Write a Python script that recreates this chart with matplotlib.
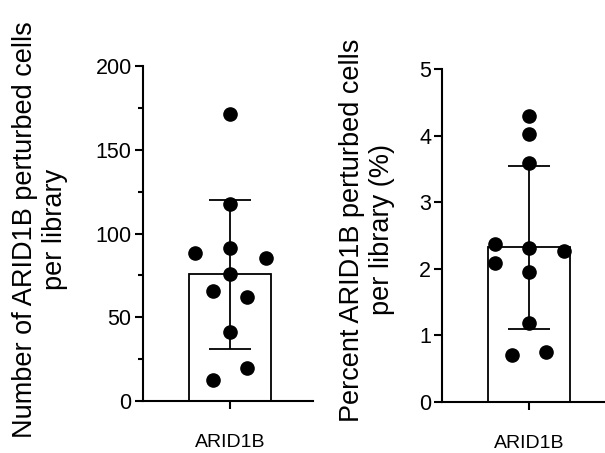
import matplotlib
matplotlib.use('Agg')
import matplotlib.pyplot as plt
from matplotlib.ticker import MultipleLocator
import numpy as np

plt.rcParams['font.family'] = ['Liberation Sans', 'DejaVu Sans']

category = 'ARID1B'

# cells per library (count)
counts = [171.3, 117.4, 91.2, 88.5, 85.6, 75.6, 65.9, 61.9, 41.4, 19.5, 12.5]
counts_jitter = [0.0, 0.0, 0.0, -0.40, 0.41, 0.0, -0.20, 0.20, 0.0, 0.20, -0.20]

# cells per library (percent)
percents = [4.30, 4.02, 3.59, 2.37, 2.09, 2.31, 2.27, 1.95, 1.18, 0.71, 0.75]
percents_jitter = [0.0, 0.0, 0.0, -0.39, -0.39, 0.0, 0.40, 0.0, 0.0, -0.20, 0.19]


def draw_panel(ax, values, jitter, ylabel, ymax, major, minor=None):
    values = np.array(values)
    mean = values.mean()
    sd = values.std(ddof=1)
    ax.bar([0], [mean], width=0.94, color='white', edgecolor='black', linewidth=1.3, zorder=1)
    ax.errorbar([0], [mean], yerr=[sd], color='black', elinewidth=1.3, capsize=15,
                capthick=1.3, zorder=2)
    ax.plot(np.array(jitter), values, 'o', color='black', markersize=9.5, zorder=3)

    ax.set_xlim(-1.0, 0.95)
    ax.set_ylim(0, ymax)
    ax.yaxis.set_major_locator(MultipleLocator(major))
    if minor:
        ax.yaxis.set_minor_locator(MultipleLocator(minor))
    ax.set_xticks([0])
    ax.set_xticklabels([category])
    ax.spines['top'].set_visible(False)
    ax.spines['right'].set_visible(False)
    for s in ['left', 'bottom']:
        ax.spines[s].set_linewidth(1.5)
    ax.tick_params(axis='both', which='major', width=1.5, length=6)
    ax.tick_params(axis='y', which='major', labelsize=15.5, pad=2)
    ax.tick_params(axis='y', which='minor', width=1.5, length=3.5)
    ax.tick_params(axis='x', labelsize=14, pad=18)
    ax.set_ylabel(ylabel, fontsize=19.5)


fig = plt.figure(figsize=(6.05, 4.53), dpi=100)
ax1 = fig.add_axes([0.236, 0.115, 0.281, 0.739])
ax2 = fig.add_axes([0.731, 0.113, 0.281, 0.734])

draw_panel(ax1, counts, counts_jitter, 'Number of ARID1B perturbed cells\nper library', 200, 50, 25)
draw_panel(ax2, percents, percents_jitter, 'Percent ARID1B perturbed cells\nper library (%)', 5, 1)

ax1.yaxis.set_label_coords(-0.44, 0.513)
ax2.yaxis.set_label_coords(-0.276, 0.517)

fig.savefig('out.png', dpi=100)
